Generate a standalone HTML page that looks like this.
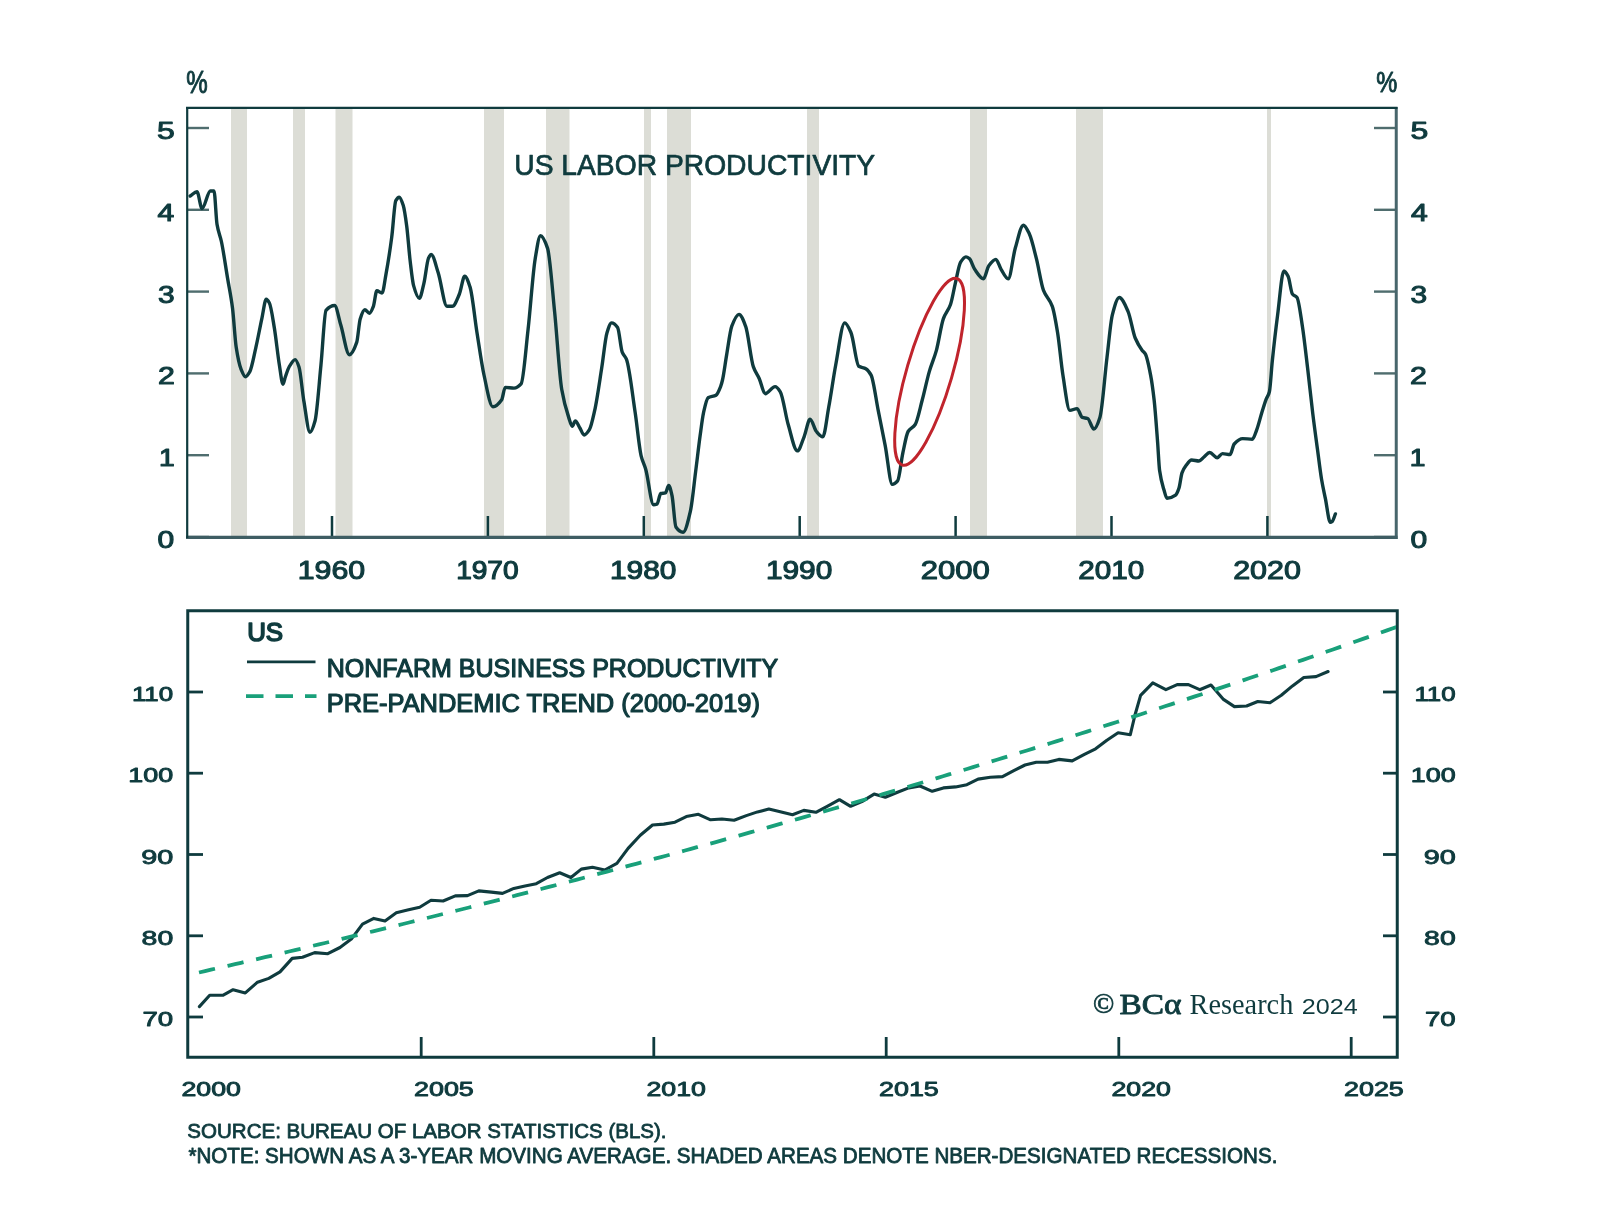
<!DOCTYPE html>
<html><head><meta charset="utf-8"><style>
html,body{margin:0;padding:0;background:#fff;}
body{width:1600px;height:1219px;overflow:hidden;font-family:"Liberation Sans",sans-serif;}
svg{display:block;will-change:transform;filter:blur(0.45px);}
</style></head><body>
<svg width="1600" height="1219" viewBox="0 0 1600 1219">
<rect width="1600" height="1219" fill="#fff"/>
<rect x="231" y="108" width="16" height="429" fill="#dcddd6"/>
<rect x="293" y="108" width="12" height="429" fill="#dcddd6"/>
<rect x="335.5" y="108" width="17.0" height="429" fill="#dcddd6"/>
<rect x="484" y="108" width="20" height="429" fill="#dcddd6"/>
<rect x="546" y="108" width="23.5" height="429" fill="#dcddd6"/>
<rect x="644" y="108" width="7" height="429" fill="#dcddd6"/>
<rect x="667" y="108" width="24" height="429" fill="#dcddd6"/>
<rect x="807" y="108" width="12" height="429" fill="#dcddd6"/>
<rect x="970" y="108" width="17" height="429" fill="#dcddd6"/>
<rect x="1076" y="108" width="27" height="429" fill="#dcddd6"/>
<rect x="1267" y="108" width="4" height="429" fill="#dcddd6"/>
<line x1="187" y1="537.0" x2="209" y2="537.0" stroke="#4f6d6e" stroke-width="2.4"/>
<line x1="1374" y1="537.0" x2="1396" y2="537.0" stroke="#4f6d6e" stroke-width="2.4"/>
<line x1="187" y1="455.2" x2="209" y2="455.2" stroke="#4f6d6e" stroke-width="2.4"/>
<line x1="1374" y1="455.2" x2="1396" y2="455.2" stroke="#4f6d6e" stroke-width="2.4"/>
<line x1="187" y1="373.4" x2="209" y2="373.4" stroke="#4f6d6e" stroke-width="2.4"/>
<line x1="1374" y1="373.4" x2="1396" y2="373.4" stroke="#4f6d6e" stroke-width="2.4"/>
<line x1="187" y1="291.6" x2="209" y2="291.6" stroke="#4f6d6e" stroke-width="2.4"/>
<line x1="1374" y1="291.6" x2="1396" y2="291.6" stroke="#4f6d6e" stroke-width="2.4"/>
<line x1="187" y1="209.8" x2="209" y2="209.8" stroke="#4f6d6e" stroke-width="2.4"/>
<line x1="1374" y1="209.8" x2="1396" y2="209.8" stroke="#4f6d6e" stroke-width="2.4"/>
<line x1="187" y1="128.0" x2="209" y2="128.0" stroke="#4f6d6e" stroke-width="2.4"/>
<line x1="1374" y1="128.0" x2="1396" y2="128.0" stroke="#4f6d6e" stroke-width="2.4"/>
<line x1="332.0" y1="516" x2="332.0" y2="537" stroke="#0f3b3e" stroke-width="2.5"/>
<line x1="487.9" y1="516" x2="487.9" y2="537" stroke="#0f3b3e" stroke-width="2.5"/>
<line x1="643.8" y1="516" x2="643.8" y2="537" stroke="#0f3b3e" stroke-width="2.5"/>
<line x1="799.7" y1="516" x2="799.7" y2="537" stroke="#0f3b3e" stroke-width="2.5"/>
<line x1="955.6" y1="516" x2="955.6" y2="537" stroke="#0f3b3e" stroke-width="2.5"/>
<line x1="1111.5" y1="516" x2="1111.5" y2="537" stroke="#0f3b3e" stroke-width="2.5"/>
<line x1="1267.4" y1="516" x2="1267.4" y2="537" stroke="#0f3b3e" stroke-width="2.5"/>
<line x1="1396.25" y1="107" x2="1396.25" y2="539" stroke="#48666c" stroke-width="3"/>
<line x1="186" y1="537.4" x2="1397.5" y2="537.4" stroke="#3e5d63" stroke-width="3.2"/>
<line x1="187.2" y1="107" x2="187.2" y2="538" stroke="#0f3b3e" stroke-width="2.2"/>
<line x1="186" y1="107.8" x2="1397.5" y2="107.8" stroke="#0f3b3e" stroke-width="2.2"/>
<path d="M190.2,196.0 C192.47,194.60 194.73,191.80 197.0,191.8 C198.67,191.80 200.33,208.50 202.0,208.5 C204.80,208.50 207.60,191.00 210.4,191.0 C211.60,191.00 212.80,191.00 214.0,191.0 C215.00,191.00 216.00,218.34 217.0,224.3 C218.47,233.04 219.93,234.66 221.4,241.5 C223.47,251.14 225.53,266.00 227.6,278.4 C229.23,288.20 230.87,295.26 232.5,308.0 C233.73,317.62 234.97,339.34 236.2,347.3 C237.83,357.84 239.47,365.43 241.1,369.4 C242.57,372.96 244.03,376.80 245.5,376.8 C246.90,376.80 248.30,374.34 249.7,371.9 C251.77,368.30 253.83,356.31 255.9,347.3 C257.93,338.43 259.97,327.15 262.0,317.8 C263.40,311.36 264.80,299.30 266.2,299.3 C267.27,299.30 268.33,301.08 269.4,303.0 C271.03,305.94 272.67,317.85 274.3,327.6 C275.97,337.55 277.63,354.27 279.3,364.5 C280.53,372.07 281.77,384.20 283.0,384.2 C283.80,384.20 284.60,379.09 285.4,376.8 C286.63,373.27 287.87,369.12 289.1,367.0 C291.13,363.51 293.17,359.60 295.2,359.6 C296.47,359.60 297.73,363.23 299.0,367.0 C300.63,371.86 302.27,391.75 303.9,401.4 C305.93,413.41 307.97,432.20 310.0,432.2 C311.67,432.20 313.33,426.92 315.0,421.0 C317.00,413.89 319.00,384.68 321.0,364.5 C322.67,347.68 324.33,312.36 326.0,310.4 C328.87,307.03 331.73,305.50 334.6,305.5 C336.67,305.50 338.73,318.30 340.8,325.1 C343.67,334.53 346.53,354.70 349.4,354.7 C351.83,354.70 354.27,349.45 356.7,342.4 C357.87,339.02 359.03,322.59 360.2,318.9 C361.73,314.06 363.27,309.70 364.8,309.7 C366.33,309.70 367.87,313.20 369.4,313.2 C370.73,313.20 372.07,309.68 373.4,306.3 C374.53,303.43 375.67,290.80 376.8,290.8 C378.53,290.80 380.27,293.10 382.0,293.1 C383.33,293.10 384.67,281.33 386.0,274.1 C387.90,263.80 389.80,251.76 391.7,237.4 C393.07,227.07 394.43,203.16 395.8,200.7 C396.93,198.66 398.07,197.20 399.2,197.2 C400.53,197.20 401.87,201.24 403.2,205.3 C404.37,208.85 405.53,217.20 406.7,225.9 C407.83,234.35 408.97,250.85 410.1,260.4 C411.27,270.24 412.43,281.46 413.6,285.6 C415.50,292.35 417.40,298.30 419.3,298.3 C420.83,298.30 422.37,289.57 423.9,283.3 C425.43,277.03 426.97,261.39 428.5,258.1 C429.37,256.24 430.23,254.40 431.1,254.4 C433.47,254.40 435.83,265.55 438.2,272.8 C441.13,281.78 444.07,306.30 447.0,306.3 C448.77,306.30 450.53,306.30 452.3,306.3 C454.67,306.30 457.03,299.48 459.4,294.0 C461.17,289.91 462.93,276.30 464.7,276.3 C466.47,276.30 468.23,281.62 470.0,286.9 C472.33,293.88 474.67,318.04 477.0,332.7 C479.33,347.36 481.67,364.41 484.0,375.0 C486.97,388.46 489.93,406.80 492.9,406.8 C495.83,406.80 498.77,403.99 501.7,399.8 C502.87,398.13 504.03,387.40 505.2,387.4 C508.13,387.40 511.07,388.10 514.0,388.1 C516.37,388.10 518.73,386.51 521.1,383.9 C523.43,381.33 525.77,349.60 528.1,329.2 C530.47,308.51 532.83,272.73 535.2,258.7 C536.97,248.23 538.73,235.70 540.5,235.7 C542.83,235.70 545.17,241.21 547.5,248.1 C549.87,255.09 552.23,288.32 554.6,311.6 C556.97,334.88 559.33,375.28 561.7,389.2 C564.03,402.92 566.37,410.36 568.7,417.4 C569.87,420.92 571.03,426.20 572.2,426.2 C573.23,426.20 574.27,420.90 575.3,420.9 C576.83,420.90 578.37,425.54 579.9,428.0 C581.30,430.25 582.70,435.00 584.1,435.0 C585.87,435.00 587.63,432.47 589.4,429.7 C591.17,426.93 592.93,418.34 594.7,410.4 C597.03,399.91 599.37,382.84 601.7,368.0 C603.47,356.77 605.23,338.33 607.0,332.7 C608.53,327.81 610.07,322.90 611.6,322.9 C613.60,322.90 615.60,324.72 617.6,327.5 C619.13,329.63 620.67,348.33 622.2,352.2 C623.60,355.73 625.00,355.77 626.4,359.2 C629.33,366.39 632.27,393.32 635.2,412.8 C637.20,426.08 639.20,447.97 641.2,456.1 C642.70,462.20 644.20,464.00 645.7,469.2 C648.33,478.33 650.97,504.70 653.6,504.7 C654.70,504.70 655.80,504.51 656.9,504.2 C658.20,503.84 659.50,493.83 660.8,493.5 C662.33,493.11 663.87,493.30 665.4,492.9 C666.50,492.61 667.60,485.50 668.7,485.5 C669.80,485.50 670.90,490.71 672.0,495.5 C673.30,501.16 674.60,525.12 675.9,527.0 C678.30,530.47 680.70,532.20 683.1,532.2 C685.53,532.20 687.97,521.60 690.4,511.2 C692.13,503.79 693.87,485.38 695.6,471.9 C697.13,459.98 698.67,446.28 700.2,435.1 C701.30,427.08 702.40,417.75 703.5,412.8 C705.03,405.89 706.57,398.65 708.1,397.7 C710.73,396.06 713.37,396.72 716.0,395.2 C717.53,394.31 719.07,390.49 720.6,386.6 C721.23,384.99 721.87,382.71 722.5,380.0 C723.87,374.15 725.23,363.05 726.6,355.1 C728.33,345.02 730.07,330.72 731.8,326.2 C734.20,319.94 736.60,314.40 739.0,314.4 C741.20,314.40 743.40,320.42 745.6,326.2 C748.20,333.03 750.80,359.53 753.4,366.9 C755.37,372.47 757.33,374.28 759.3,378.7 C761.27,383.12 763.23,393.80 765.2,393.8 C768.50,393.80 771.80,386.60 775.1,386.6 C776.83,386.60 778.57,389.12 780.3,391.8 C782.93,395.87 785.57,415.66 788.2,424.6 C791.27,435.01 794.33,450.80 797.4,450.8 C799.63,450.80 801.87,442.27 804.1,436.8 C806.10,431.90 808.10,419.20 810.1,419.2 C812.20,419.20 814.30,429.06 816.4,431.5 C818.53,433.98 820.67,436.80 822.8,436.8 C824.80,436.80 826.80,417.72 828.8,406.8 C831.13,394.06 833.47,376.86 835.8,364.5 C838.77,348.78 841.73,322.90 844.7,322.9 C846.80,322.90 848.90,327.98 851.0,332.7 C853.60,338.55 856.20,364.67 858.8,366.3 C861.13,367.76 863.47,367.42 865.8,368.7 C867.57,369.67 869.33,371.77 871.1,375.1 C873.47,379.57 875.83,398.57 878.2,410.4 C880.53,422.07 882.87,433.38 885.2,445.6 C887.57,457.99 889.93,484.40 892.3,484.4 C894.07,484.40 895.83,482.98 897.6,480.9 C899.37,478.82 901.13,460.85 902.9,452.7 C904.63,444.70 906.37,434.34 908.1,431.5 C910.47,427.62 912.83,428.14 915.2,424.5 C917.57,420.86 919.93,408.64 922.3,399.8 C924.63,391.09 926.97,379.61 929.3,371.6 C931.67,363.48 934.03,358.93 936.4,350.4 C938.73,341.99 941.07,325.05 943.4,318.6 C945.77,312.05 948.13,311.14 950.5,304.5 C952.10,300.01 953.70,290.11 955.3,283.4 C957.07,275.99 958.83,265.03 960.6,262.2 C962.37,259.37 964.13,256.90 965.9,256.9 C967.07,256.90 968.23,257.78 969.4,258.7 C971.17,260.09 972.93,266.76 974.7,269.3 C977.63,273.52 980.57,278.80 983.5,278.8 C985.27,278.80 987.03,268.06 988.8,265.7 C991.17,262.54 993.53,259.40 995.9,259.4 C997.63,259.40 999.37,266.55 1001.1,269.3 C1003.47,273.05 1005.83,278.80 1008.2,278.8 C1010.57,278.80 1012.93,256.23 1015.3,248.1 C1018.00,238.83 1020.70,225.20 1023.4,225.2 C1025.40,225.20 1027.40,229.90 1029.4,234.0 C1031.73,238.78 1034.07,249.50 1036.4,258.7 C1038.77,268.03 1041.13,284.22 1043.5,290.4 C1046.43,298.06 1049.37,298.21 1052.3,306.3 C1054.07,311.17 1055.83,321.85 1057.6,332.7 C1059.37,343.55 1061.13,364.06 1062.9,375.1 C1065.23,389.69 1067.57,410.40 1069.9,410.4 C1072.27,410.40 1074.63,408.60 1077.0,408.6 C1078.77,408.60 1080.53,416.75 1082.3,417.4 C1084.07,418.05 1085.83,417.86 1087.6,418.5 C1089.70,419.26 1091.80,429.00 1093.9,429.0 C1095.90,429.00 1097.90,423.58 1099.9,417.4 C1102.27,410.08 1104.63,376.80 1107.0,357.4 C1108.77,342.92 1110.53,322.02 1112.3,315.1 C1114.63,305.96 1116.97,297.50 1119.3,297.5 C1122.23,297.50 1125.17,304.94 1128.1,311.6 C1130.47,316.98 1132.83,332.33 1135.2,338.0 C1137.53,343.59 1139.87,347.27 1142.2,350.4 C1143.23,351.79 1144.27,352.17 1145.3,353.9 C1147.07,356.87 1148.83,365.91 1150.6,375.1 C1151.77,381.17 1152.93,389.40 1154.1,399.8 C1155.27,410.20 1156.43,426.73 1157.6,442.1 C1158.27,450.88 1158.93,465.79 1159.6,470.6 C1161.07,481.17 1162.53,485.08 1164.0,490.0 C1165.00,493.35 1166.00,498.30 1167.0,498.3 C1169.87,498.30 1172.73,497.11 1175.6,495.1 C1176.73,494.30 1177.87,491.38 1179.0,488.0 C1180.00,485.02 1181.00,475.54 1182.0,472.8 C1183.33,469.14 1184.67,467.23 1186.0,465.5 C1187.87,463.08 1189.73,460.00 1191.6,460.0 C1194.07,460.00 1196.53,461.00 1199.0,461.0 C1200.67,461.00 1202.33,458.32 1204.0,457.0 C1205.90,455.49 1207.80,452.50 1209.7,452.5 C1212.20,452.50 1214.70,457.80 1217.2,457.8 C1218.97,457.80 1220.73,453.60 1222.5,453.6 C1225.00,453.60 1227.50,454.60 1230.0,454.6 C1231.40,454.60 1232.80,445.52 1234.2,444.0 C1237.03,440.92 1239.87,438.60 1242.7,438.6 C1245.90,438.60 1249.10,439.20 1252.3,439.2 C1253.73,439.20 1255.17,433.79 1256.6,430.1 C1258.40,425.47 1260.20,417.74 1262.0,412.0 C1263.40,407.54 1264.80,402.89 1266.2,399.2 C1267.27,396.39 1268.33,395.84 1269.4,391.7 C1270.37,387.95 1271.33,370.30 1272.3,361.0 C1274.07,344.00 1275.83,328.82 1277.6,315.1 C1279.70,298.79 1281.80,271.00 1283.9,271.0 C1285.30,271.00 1286.70,273.60 1288.1,276.3 C1289.53,279.06 1290.97,292.14 1292.4,294.0 C1293.93,295.98 1295.47,295.49 1297.0,297.5 C1298.77,299.81 1300.53,314.42 1302.3,325.7 C1304.07,336.98 1305.83,353.19 1307.6,368.0 C1309.33,382.53 1311.07,399.79 1312.8,413.9 C1314.37,426.66 1315.93,437.80 1317.5,449.5 C1318.83,459.46 1320.17,471.01 1321.5,479.0 C1322.80,486.79 1324.10,492.28 1325.4,498.7 C1327.03,506.76 1328.67,522.30 1330.3,522.3 C1330.97,522.30 1331.63,521.83 1332.3,521.3 C1333.33,520.48 1334.37,516.37 1335.4,513.9" fill="none" stroke="#0f3b3e" stroke-width="3.4" stroke-linejoin="round" stroke-linecap="round"/>
<ellipse cx="929.6" cy="371.8" rx="97.2" ry="22.8" transform="rotate(-73.75 929.6 371.8)" fill="none" stroke="#c0242c" stroke-width="3.0"/>
<line x1="188" y1="1017.0" x2="203" y2="1017.0" stroke="#0f3b3e" stroke-width="2.8"/>
<line x1="1383" y1="1017.0" x2="1397" y2="1017.0" stroke="#0f3b3e" stroke-width="2.8"/>
<line x1="188" y1="935.8" x2="203" y2="935.8" stroke="#0f3b3e" stroke-width="2.8"/>
<line x1="1383" y1="935.8" x2="1397" y2="935.8" stroke="#0f3b3e" stroke-width="2.8"/>
<line x1="188" y1="854.5" x2="203" y2="854.5" stroke="#0f3b3e" stroke-width="2.8"/>
<line x1="1383" y1="854.5" x2="1397" y2="854.5" stroke="#0f3b3e" stroke-width="2.8"/>
<line x1="188" y1="773.2" x2="203" y2="773.2" stroke="#0f3b3e" stroke-width="2.8"/>
<line x1="1383" y1="773.2" x2="1397" y2="773.2" stroke="#0f3b3e" stroke-width="2.8"/>
<line x1="188" y1="692.0" x2="203" y2="692.0" stroke="#0f3b3e" stroke-width="2.8"/>
<line x1="1383" y1="692.0" x2="1397" y2="692.0" stroke="#0f3b3e" stroke-width="2.8"/>
<line x1="421.2" y1="1037" x2="421.2" y2="1057" stroke="#0f3b3e" stroke-width="2.8"/>
<line x1="653.8" y1="1037" x2="653.8" y2="1057" stroke="#0f3b3e" stroke-width="2.8"/>
<line x1="886.2" y1="1037" x2="886.2" y2="1057" stroke="#0f3b3e" stroke-width="2.8"/>
<line x1="1118.8" y1="1037" x2="1118.8" y2="1057" stroke="#0f3b3e" stroke-width="2.8"/>
<line x1="1351.2" y1="1037" x2="1351.2" y2="1057" stroke="#0f3b3e" stroke-width="2.8"/>
<rect x="187.75" y="610.75" width="1209.5" height="446.5" fill="none" stroke="#0f3b3e" stroke-width="3"/>
<defs><clipPath id="bc"><rect x="189" y="612" width="1207" height="444"/></clipPath></defs>
<polyline points="199.4,1006.6 209.7,995.3 222.8,995.3 233.1,989.7 245.3,992.9 257.5,982.2 268.8,978.4 280.0,971.9 292.2,958.4 302.5,957.3 314.7,952.6 327.8,953.7 340.0,947.5 351.3,939.1 362.5,924.1 373.8,918.4 385.0,920.9 396.3,912.8 407.5,910.0 419.7,907.2 431.0,900.3 443.1,901.0 455.3,895.9 467.5,895.6 478.8,890.9 491.3,892.1 502.5,893.4 513.8,888.4 525.0,885.9 536.3,883.7 547.5,877.5 559.7,872.8 570.9,877.5 581.3,869.1 592.5,867.2 604.7,870.0 616.9,863.4 628.1,848.4 640.3,835.3 652.5,825.0 663.8,824.1 675.0,822.2 686.3,816.6 698.4,814.3 710.6,819.8 721.9,819.0 734.1,820.3 746.3,815.6 757.5,811.9 768.8,809.1 781.3,811.9 792.5,814.7 803.8,810.4 815.9,812.3 827.2,806.3 839.4,799.7 850.6,806.3 861.9,801.6 874.1,794.1 885.3,797.3 897.5,792.2 908.8,787.9 920.0,786.0 932.2,791.3 943.4,787.9 955.6,786.9 966.9,784.7 978.1,779.1 990.3,777.2 1002.5,776.6 1013.8,770.6 1025.0,765.0 1036.3,762.2 1047.5,762.2 1058.8,759.4 1072.2,760.9 1084.4,754.4 1095.6,748.8 1106.9,740.3 1118.1,732.8 1130.3,734.7 1135.0,715.0 1140.6,695.3 1152.8,682.8 1165.9,689.7 1177.2,684.6 1188.4,684.6 1199.7,689.7 1211.0,685.0 1223.1,699.1 1234.4,706.6 1246.6,706.0 1257.8,701.5 1270.0,702.8 1281.3,695.3 1292.5,685.9 1303.8,677.5 1316.0,676.6 1328.1,671.5" fill="none" stroke="#0f3b3e" stroke-width="3.1" stroke-linejoin="round" stroke-linecap="round"/>
<polyline clip-path="url(#bc)" points="199.0,972.5 205.0,971.1 211.0,969.7 217.0,968.3 223.0,967.0 229.0,965.6 235.0,964.2 241.0,962.8 247.0,961.4 253.0,960.0 259.0,958.6 265.0,957.2 271.0,955.8 277.0,954.4 283.0,952.9 289.0,951.5 295.0,950.1 301.0,948.7 307.0,947.3 313.0,945.8 319.0,944.4 325.0,943.0 331.0,941.5 337.0,940.1 343.0,938.6 349.0,937.2 355.0,935.7 361.0,934.3 367.0,932.8 373.0,931.3 379.0,929.9 385.0,928.4 391.0,926.9 397.0,925.5 403.0,924.0 409.0,922.5 415.0,921.0 421.0,919.5 427.0,918.0 433.0,916.5 439.0,915.0 445.0,913.5 451.0,912.0 457.0,910.5 463.0,909.0 469.0,907.5 475.0,906.0 481.0,904.4 487.0,902.9 493.0,901.4 499.0,899.8 505.0,898.3 511.0,896.8 517.0,895.2 523.0,893.7 529.0,892.1 535.0,890.6 541.0,889.0 547.0,887.4 553.0,885.9 559.0,884.3 565.0,882.7 571.0,881.2 577.0,879.6 583.0,878.0 589.0,876.4 595.0,874.8 601.0,873.2 607.0,871.6 613.0,870.0 619.0,868.4 625.0,866.8 631.0,865.2 637.0,863.6 643.0,862.0 649.0,860.4 655.0,858.7 661.0,857.1 667.0,855.5 673.0,853.8 679.0,852.2 685.0,850.5 691.0,848.9 697.0,847.2 703.0,845.6 709.0,843.9 715.0,842.3 721.0,840.6 727.0,838.9 733.0,837.3 739.0,835.6 745.0,833.9 751.0,832.2 757.0,830.5 763.0,828.8 769.0,827.1 775.0,825.4 781.0,823.7 787.0,822.0 793.0,820.3 799.0,818.6 805.0,816.9 811.0,815.2 817.0,813.4 823.0,811.7 829.0,810.0 835.0,808.2 841.0,806.5 847.0,804.7 853.0,803.0 859.0,801.2 865.0,799.5 871.0,797.7 877.0,795.9 883.0,794.2 889.0,792.4 895.0,790.6 901.0,788.8 907.0,787.1 913.0,785.3 919.0,783.5 925.0,781.7 931.0,779.9 937.0,778.1 943.0,776.3 949.0,774.4 955.0,772.6 961.0,770.8 967.0,769.0 973.0,767.1 979.0,765.3 985.0,763.5 991.0,761.6 997.0,759.8 1003.0,757.9 1009.0,756.1 1015.0,754.2 1021.0,752.3 1027.0,750.5 1033.0,748.6 1039.0,746.7 1045.0,744.9 1051.0,743.0 1057.0,741.1 1063.0,739.2 1069.0,737.3 1075.0,735.4 1081.0,733.5 1087.0,731.6 1093.0,729.7 1099.0,727.7 1105.0,725.8 1111.0,723.9 1117.0,722.0 1123.0,720.0 1129.0,718.1 1135.0,716.1 1141.0,714.2 1147.0,712.2 1153.0,710.3 1159.0,708.3 1165.0,706.3 1171.0,704.4 1177.0,702.4 1183.0,700.4 1189.0,698.4 1195.0,696.4 1201.0,694.5 1207.0,692.5 1213.0,690.5 1219.0,688.4 1225.0,686.4 1231.0,684.4 1237.0,682.4 1243.0,680.4 1249.0,678.3 1255.0,676.3 1261.0,674.3 1267.0,672.2 1273.0,670.2 1279.0,668.1 1285.0,666.1 1291.0,664.0 1297.0,661.9 1303.0,659.9 1309.0,657.8 1315.0,655.7 1321.0,653.6 1327.0,651.5 1333.0,649.5 1339.0,647.4 1345.0,645.3 1351.0,643.1 1357.0,641.0 1363.0,638.9 1369.0,636.8 1375.0,634.7 1381.0,632.5 1387.0,630.4 1393.0,628.3 1397.0,626.8" fill="none" stroke="#19a07a" stroke-width="3.8" stroke-dasharray="16.4 12.9" stroke-dashoffset="0"/>
<line x1="247" y1="661.8" x2="315.5" y2="661.8" stroke="#0f3b3e" stroke-width="2.8"/>
<line x1="246" y1="696.1" x2="316.5" y2="696.1" stroke="#19a07a" stroke-width="3.8" stroke-dasharray="17.5 12"/>
<text transform="translate(186.25,92.80) scale(0.7615,1)" font-family="'Liberation Sans'" font-weight="normal" font-size="31.72" fill="#0f3b3e" stroke="#0f3b3e" stroke-width="1.05" stroke-linejoin="round">%</text>
<text transform="translate(1376.26,92.00) scale(0.7813,1)" font-family="'Liberation Sans'" font-weight="normal" font-size="30.29" fill="#0f3b3e" stroke="#0f3b3e" stroke-width="1.02" stroke-linejoin="round">%</text>
<text transform="translate(157.56,548.00) scale(1.2408,1)" font-family="'Liberation Sans'" font-weight="normal" font-size="24.18" fill="#0f3b3e" stroke="#0f3b3e" stroke-width="1.05" stroke-linejoin="round">0</text>
<text transform="translate(1410.56,548.00) scale(1.2408,1)" font-family="'Liberation Sans'" font-weight="normal" font-size="24.18" fill="#0f3b3e" stroke="#0f3b3e" stroke-width="1.05" stroke-linejoin="round">0</text>
<text transform="translate(158.93,466.20) scale(1.1684,1)" font-family="'Liberation Sans'" font-weight="normal" font-size="24.18" fill="#0f3b3e" stroke="#0f3b3e" stroke-width="1.11" stroke-linejoin="round">1</text>
<text transform="translate(1409.73,466.20) scale(1.1684,1)" font-family="'Liberation Sans'" font-weight="normal" font-size="24.18" fill="#0f3b3e" stroke="#0f3b3e" stroke-width="1.11" stroke-linejoin="round">1</text>
<text transform="translate(157.88,384.40) scale(1.2529,1)" font-family="'Liberation Sans'" font-weight="normal" font-size="24.18" fill="#0f3b3e" stroke="#0f3b3e" stroke-width="1.04" stroke-linejoin="round">2</text>
<text transform="translate(1410.08,384.40) scale(1.2529,1)" font-family="'Liberation Sans'" font-weight="normal" font-size="24.18" fill="#0f3b3e" stroke="#0f3b3e" stroke-width="1.04" stroke-linejoin="round">2</text>
<text transform="translate(158.06,302.60) scale(1.2381,1)" font-family="'Liberation Sans'" font-weight="normal" font-size="24.18" fill="#0f3b3e" stroke="#0f3b3e" stroke-width="1.05" stroke-linejoin="round">3</text>
<text transform="translate(1410.56,302.60) scale(1.2381,1)" font-family="'Liberation Sans'" font-weight="normal" font-size="24.18" fill="#0f3b3e" stroke="#0f3b3e" stroke-width="1.05" stroke-linejoin="round">3</text>
<text transform="translate(157.53,220.80) scale(1.2433,1)" font-family="'Liberation Sans'" font-weight="normal" font-size="24.18" fill="#0f3b3e" stroke="#0f3b3e" stroke-width="1.05" stroke-linejoin="round">4</text>
<text transform="translate(1411.03,220.80) scale(1.2433,1)" font-family="'Liberation Sans'" font-weight="normal" font-size="24.18" fill="#0f3b3e" stroke="#0f3b3e" stroke-width="1.05" stroke-linejoin="round">4</text>
<text transform="translate(157.00,139.00) scale(1.3235,1)" font-family="'Liberation Sans'" font-weight="normal" font-size="24.18" fill="#0f3b3e" stroke="#0f3b3e" stroke-width="0.98" stroke-linejoin="round">5</text>
<text transform="translate(1410.50,139.00) scale(1.3235,1)" font-family="'Liberation Sans'" font-weight="normal" font-size="24.18" fill="#0f3b3e" stroke="#0f3b3e" stroke-width="0.98" stroke-linejoin="round">5</text>
<text transform="translate(297.76,578.75) scale(1.2163,1)" font-family="'Liberation Sans'" font-weight="normal" font-size="24.89" fill="#0f3b3e" stroke="#0f3b3e" stroke-width="1.07" stroke-linejoin="round">1960</text>
<text transform="translate(456.15,578.75) scale(1.1280,1)" font-family="'Liberation Sans'" font-weight="normal" font-size="24.89" fill="#0f3b3e" stroke="#0f3b3e" stroke-width="1.15" stroke-linejoin="round">1970</text>
<text transform="translate(610.03,578.75) scale(1.1994,1)" font-family="'Liberation Sans'" font-weight="normal" font-size="24.89" fill="#0f3b3e" stroke="#0f3b3e" stroke-width="1.08" stroke-linejoin="round">1980</text>
<text transform="translate(765.99,578.75) scale(1.1975,1)" font-family="'Liberation Sans'" font-weight="normal" font-size="24.89" fill="#0f3b3e" stroke="#0f3b3e" stroke-width="1.09" stroke-linejoin="round">1990</text>
<text transform="translate(920.69,578.75) scale(1.2486,1)" font-family="'Liberation Sans'" font-weight="normal" font-size="24.89" fill="#0f3b3e" stroke="#0f3b3e" stroke-width="1.04" stroke-linejoin="round">2000</text>
<text transform="translate(1078.21,578.75) scale(1.1907,1)" font-family="'Liberation Sans'" font-weight="normal" font-size="24.89" fill="#0f3b3e" stroke="#0f3b3e" stroke-width="1.09" stroke-linejoin="round">2010</text>
<text transform="translate(1233.17,578.75) scale(1.2243,1)" font-family="'Liberation Sans'" font-weight="normal" font-size="24.89" fill="#0f3b3e" stroke="#0f3b3e" stroke-width="1.06" stroke-linejoin="round">2020</text>
<text transform="translate(514.23,175.00) scale(0.9460,1)" font-family="'Liberation Sans'" font-weight="normal" font-size="29.87" fill="#0f3b3e" stroke="#0f3b3e" stroke-width="0.74" stroke-linejoin="round">US LABOR PRODUCTIVITY</text>
<text transform="translate(142.45,1026.10) scale(1.4027,1)" font-family="'Liberation Sans'" font-weight="normal" font-size="19.70" fill="#0f3b3e" stroke="#0f3b3e" stroke-width="0.86" stroke-linejoin="round">70</text>
<text transform="translate(1424.95,1026.10) scale(1.4027,1)" font-family="'Liberation Sans'" font-weight="normal" font-size="19.70" fill="#0f3b3e" stroke="#0f3b3e" stroke-width="0.86" stroke-linejoin="round">70</text>
<text transform="translate(141.61,944.85) scale(1.4420,1)" font-family="'Liberation Sans'" font-weight="normal" font-size="19.70" fill="#0f3b3e" stroke="#0f3b3e" stroke-width="0.83" stroke-linejoin="round">80</text>
<text transform="translate(1424.11,944.85) scale(1.4420,1)" font-family="'Liberation Sans'" font-weight="normal" font-size="19.70" fill="#0f3b3e" stroke="#0f3b3e" stroke-width="0.83" stroke-linejoin="round">80</text>
<text transform="translate(141.15,863.60) scale(1.4637,1)" font-family="'Liberation Sans'" font-weight="normal" font-size="19.70" fill="#0f3b3e" stroke="#0f3b3e" stroke-width="0.82" stroke-linejoin="round">90</text>
<text transform="translate(1423.65,863.60) scale(1.4637,1)" font-family="'Liberation Sans'" font-weight="normal" font-size="19.70" fill="#0f3b3e" stroke="#0f3b3e" stroke-width="0.82" stroke-linejoin="round">90</text>
<text transform="translate(128.32,782.35) scale(1.3647,1)" font-family="'Liberation Sans'" font-weight="normal" font-size="19.70" fill="#0f3b3e" stroke="#0f3b3e" stroke-width="0.88" stroke-linejoin="round">100</text>
<text transform="translate(1410.82,782.35) scale(1.3647,1)" font-family="'Liberation Sans'" font-weight="normal" font-size="19.70" fill="#0f3b3e" stroke="#0f3b3e" stroke-width="0.88" stroke-linejoin="round">100</text>
<text transform="translate(131.88,701.10) scale(1.3140,1)" font-family="'Liberation Sans'" font-weight="normal" font-size="19.70" fill="#0f3b3e" stroke="#0f3b3e" stroke-width="0.91" stroke-linejoin="round">110</text>
<text transform="translate(1414.38,701.10) scale(1.3140,1)" font-family="'Liberation Sans'" font-weight="normal" font-size="19.70" fill="#0f3b3e" stroke="#0f3b3e" stroke-width="0.91" stroke-linejoin="round">110</text>
<text transform="translate(181.50,1096.25) scale(1.3179,1)" font-family="'Liberation Sans'" font-weight="normal" font-size="20.27" fill="#0f3b3e" stroke="#0f3b3e" stroke-width="0.91" stroke-linejoin="round">2000</text>
<text transform="translate(413.99,1096.25) scale(1.3275,1)" font-family="'Liberation Sans'" font-weight="normal" font-size="20.27" fill="#0f3b3e" stroke="#0f3b3e" stroke-width="0.90" stroke-linejoin="round">2005</text>
<text transform="translate(646.50,1096.25) scale(1.3179,1)" font-family="'Liberation Sans'" font-weight="normal" font-size="20.27" fill="#0f3b3e" stroke="#0f3b3e" stroke-width="0.91" stroke-linejoin="round">2010</text>
<text transform="translate(878.99,1096.25) scale(1.3275,1)" font-family="'Liberation Sans'" font-weight="normal" font-size="20.27" fill="#0f3b3e" stroke="#0f3b3e" stroke-width="0.90" stroke-linejoin="round">2015</text>
<text transform="translate(1111.50,1096.25) scale(1.3179,1)" font-family="'Liberation Sans'" font-weight="normal" font-size="20.27" fill="#0f3b3e" stroke="#0f3b3e" stroke-width="0.91" stroke-linejoin="round">2020</text>
<text transform="translate(1343.99,1096.25) scale(1.3275,1)" font-family="'Liberation Sans'" font-weight="normal" font-size="20.27" fill="#0f3b3e" stroke="#0f3b3e" stroke-width="0.90" stroke-linejoin="round">2025</text>
<text transform="translate(247.13,641.25) scale(0.9972,1)" font-family="'Liberation Sans'" font-weight="normal" font-size="25.96" fill="#0f3b3e" stroke="#0f3b3e" stroke-width="1.60" stroke-linejoin="round">US</text>
<text transform="translate(326.80,676.75) scale(0.9771,1)" font-family="'Liberation Sans'" font-weight="normal" font-size="25.60" fill="#0f3b3e" stroke="#0f3b3e" stroke-width="1.23" stroke-linejoin="round">NONFARM BUSINESS PRODUCTIVITY</text>
<text transform="translate(326.76,711.70) scale(1.0118,1)" font-family="'Liberation Sans'" font-weight="normal" font-size="25.17" fill="#0f3b3e" stroke="#0f3b3e" stroke-width="1.19" stroke-linejoin="round">PRE-PANDEMIC TREND (2000-2019)</text>
<text transform="translate(1092.88,1013.00) scale(1.0500,1)" font-family="'Liberation Serif'" font-weight="normal" font-size="26.67" fill="#0f3b3e" stroke="#0f3b3e" stroke-width="0.67" stroke-linejoin="round">©</text>
<text transform="translate(1119.48,1013.90) scale(1.1356,1)" font-family="'Liberation Serif'" font-weight="normal" font-size="29.41" fill="#0f3b3e" stroke="#0f3b3e" stroke-width="0.88" stroke-linejoin="round">BCα</text>
<text transform="translate(1189.56,1013.90) scale(0.9626,1)" font-family="'Liberation Serif'" font-weight="normal" font-size="29.41" fill="#0f3b3e">Research</text>
<text transform="translate(1301.72,1013.90) scale(1.1495,1)" font-family="'Liberation Sans'" font-weight="normal" font-size="21.90" fill="#0f3b3e">2024</text>
<text transform="translate(187.36,1137.60) scale(0.9955,1)" font-family="'Liberation Sans'" font-weight="normal" font-size="20.62" fill="#0f3b3e" stroke="#0f3b3e" stroke-width="0.80" stroke-linejoin="round">SOURCE: BUREAU OF LABOR STATISTICS (BLS).</text>
<text transform="translate(188.43,1162.50) scale(0.9727,1)" font-family="'Liberation Sans'" font-weight="normal" font-size="21.19" fill="#0f3b3e" stroke="#0f3b3e" stroke-width="0.82" stroke-linejoin="round">*NOTE: SHOWN AS A 3-YEAR MOVING AVERAGE. SHADED AREAS DENOTE NBER-DESIGNATED RECESSIONS.</text>
</svg>
</body></html>
